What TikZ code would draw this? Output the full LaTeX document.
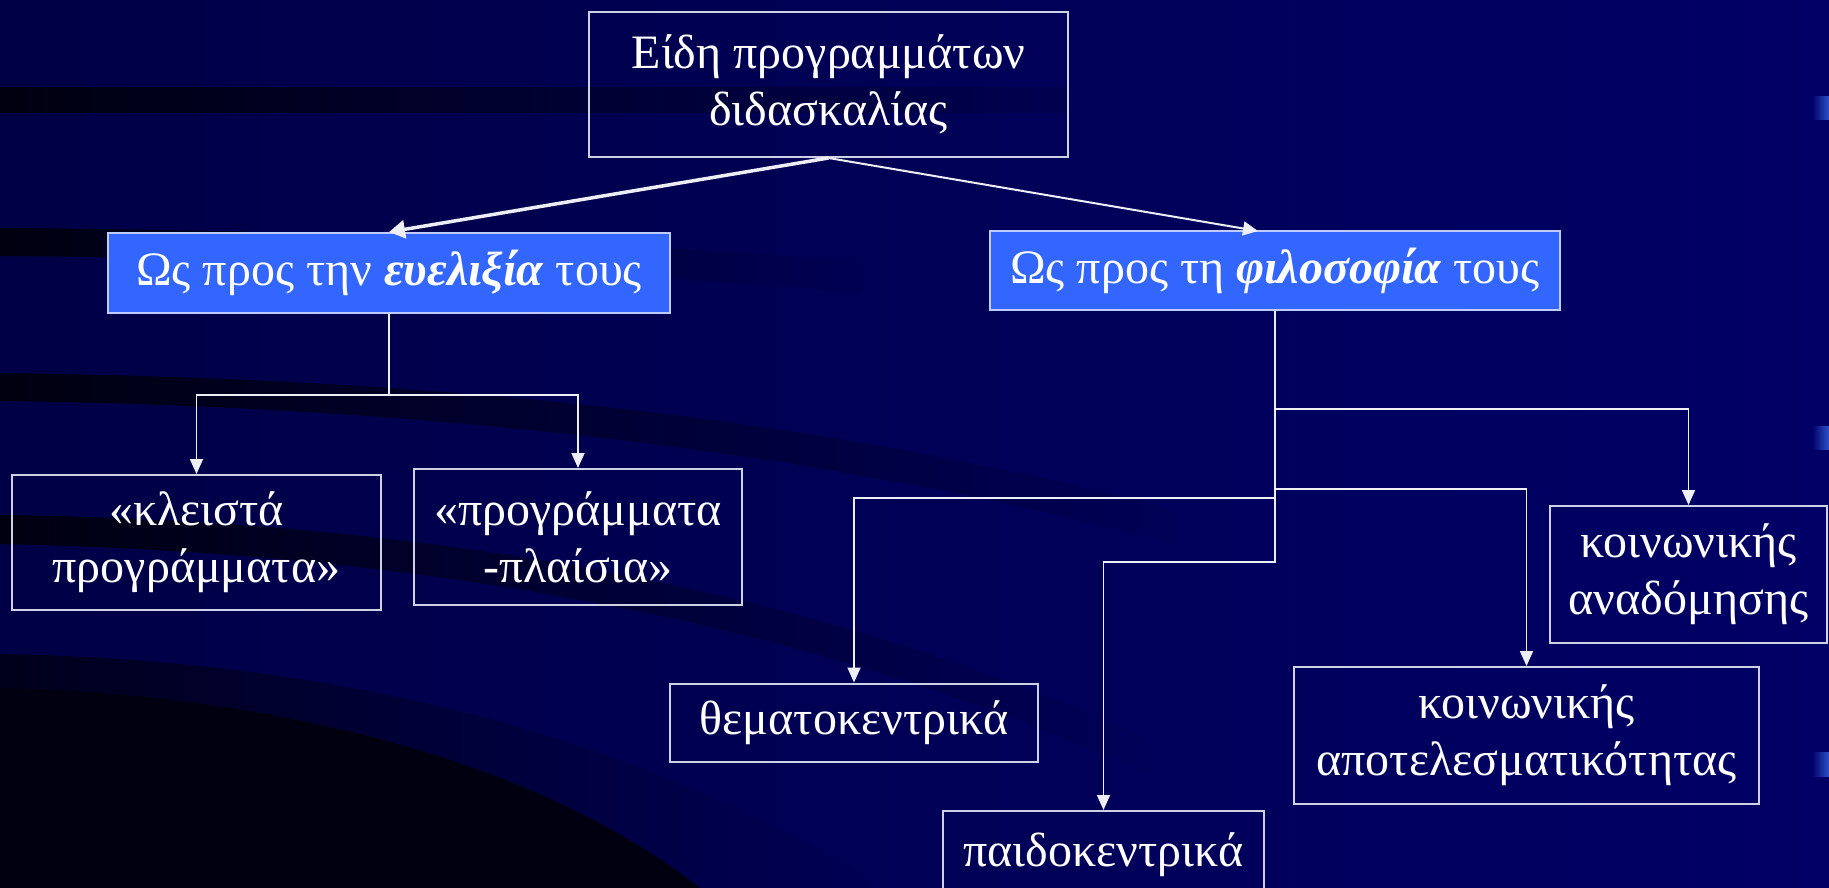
\documentclass[tikz,border=0pt]{standalone}
\usepackage{fontspec}
\setmainfont{Liberation Serif}
\usetikzlibrary{arrows.meta}
\definecolor{bgL}{HTML}{000046}
\definecolor{bgR}{HTML}{000066}
\definecolor{dark}{HTML}{00001C}
\definecolor{darker}{HTML}{000010}
\definecolor{boxline}{HTML}{D0D0E4}
\definecolor{bluefill}{HTML}{3366FF}
\definecolor{blueline}{HTML}{C0CCFF}
\definecolor{conncol}{HTML}{EEEEF6}
\definecolor{bullet}{HTML}{3050C8}
\begin{document}
\begin{tikzpicture}[x=1pt,y=-1pt,
  txt/.style={text=white, align=center, inner sep=0pt, font=\fontsize{48}{57}\selectfont},
  wbox/.style={txt, draw=boxline, line width=2pt},
  bbox/.style={txt, draw=blueline, fill=bluefill, line width=2pt},
  tree/.style={draw=conncol, line width=1.8pt, -{Triangle[width=13pt,length=15pt]}},
]
\useasboundingbox (0,0) rectangle (1829,888);
\clip (0,0) rectangle (1829,888);
% background
\shade[left color=bgL, right color=bgR] (0,0) rectangle (1829,888);
% dark swooshes
\shade[left color=darker, right color=bgL!70!bgR] (0,88) -- (1069,88) -- (1069,113) -- (0,113) -- cycle;
\shade[left color=darker, right color=bgL!60!bgR] (0,228) .. controls (300,230) and (600,240) .. (860,262) -- (860,292) .. controls (600,272) and (300,258) .. (0,256) -- cycle;
\shade[left color=darker, right color=bgL!50!bgR] (0,373) .. controls (400,378) and (800,410) .. (1180,512) -- (1180,545) .. controls (800,445) and (400,406) .. (0,401) -- cycle;
\shade[left color=darker, right color=bgL!45!bgR] (0,515) .. controls (400,520) and (800,580) .. (1150,740) -- (1150,775) .. controls (800,615) and (400,552) .. (0,544) -- cycle;
\shade[left color=dark, right color=bgL!55!bgR] (0,654) .. controls (350,660) and (650,740) .. (880,888) -- (0,888) -- cycle;
\fill[darker] (0,688) .. controls (300,695) and (550,770) .. (700,888) -- (0,888) -- cycle;
% right-edge bullets
\shade[left color=bgR, right color=bullet] (1812,97) rectangle (1829,120);
\shade[left color=bgR, right color=bullet] (1812,426) rectangle (1829,449);
\shade[left color=bgR, right color=bullet] (1812,752) rectangle (1829,776);
% nodes
\node[wbox, minimum width=479pt, minimum height=145pt] (top) at (828.5,84.5) {Είδη προγραμμάτων\\διδασκαλίας};
\node[bbox, minimum width=562pt, minimum height=80pt] (flex) at (389,273) {Ως προς την \textbf{\textit{ευελιξία}} τους};
\node[bbox, minimum width=570pt, minimum height=79pt] (philo) at (1275,270.5) {Ως προς τη \textbf{\textit{φιλοσοφία}} τους};
\node[wbox, minimum width=369pt, minimum height=135pt] (kleista) at (196.5,542.5) {«κλειστά\\προγράμματα»};
\node[wbox, minimum width=328pt, minimum height=136pt] (plaisia) at (578,537) {«προγράμματα\\-πλαίσια»};
\node[wbox, minimum width=368pt, minimum height=78pt] (thema) at (854,722.5) {θεματοκεντρικά};
\node[wbox, minimum width=321pt, minimum height=88pt] (paido) at (1103.5,855) {παιδοκεντρικά};
\node[wbox, minimum width=277pt, minimum height=137pt] (anad) at (1688.5,574.5) {κοινωνικής\\αναδόμησης};
\node[wbox, minimum width=465pt, minimum height=137pt] (apot) at (1526.5,735.5) {κοινωνικής\\αποτελεσματικότητας};
% connectors
\coordinate (philoIn) at (1258,231);
\draw[draw=conncol, line width=3.5pt, -{Triangle[width=18pt,length=16pt]}] (top.south) -- (flex.north);
\draw[draw=conncol, line width=2pt, -{Triangle[width=14pt,length=15pt]}] (top.south) -- (philoIn);
\draw[tree] (flex.south) -- ++(0,81) coordinate (lj) -| (kleista.north);
\draw[tree] (lj) -| (plaisia.north);
\draw[tree] (philo.south) -- ++(0,251) -| (paido.north);
\draw[tree] (philo.south) ++(0,98) -| (anad.north);
\draw[tree] (philo.south) ++(0,178) -| (apot.north);
\draw[tree] (philo.south) ++(0,187) -| (thema.north);
\end{tikzpicture}
\end{document}
